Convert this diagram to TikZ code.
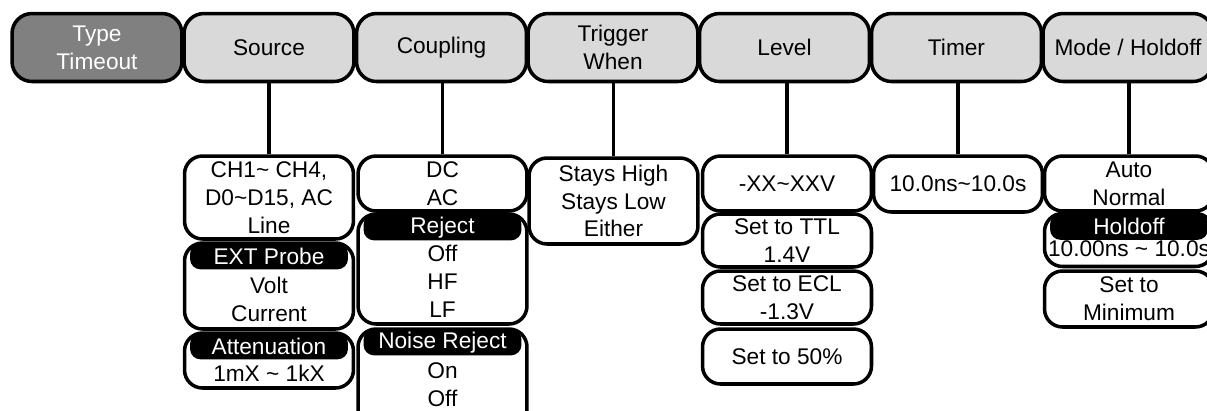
\documentclass[tikz,border=0pt]{standalone}
\usepackage{fontspec}
\setmainfont{Liberation Sans}
\usetikzlibrary{positioning}
\definecolor{keygray}{HTML}{D9D9D9}
\definecolor{selgray}{HTML}{808080}

\begin{document}
\begin{tikzpicture}[x=0.02cm, y=-0.02cm, font=\fontsize{12.9}{15.8}\selectfont,
  menu/.style={draw, line width=2pt, rounded corners=0.4cm, fill=keygray, align=center, minimum width=3.40cm, minimum height=1.36cm, inner sep=0pt},
  sel/.style={menu, fill=selgray, text=white},
  opt/.style={draw, line width=2pt, rounded corners=0.36cm, fill=white, align=center, minimum width=3.38cm, inner sep=0pt},
  hdr/.style={fill=black, text=white, rounded corners=6pt, minimum width=3.16cm, minimum height=0.52cm, inner sep=0pt},
  body/.style={align=center, inner sep=0pt},
  link/.style={line width=2.2pt}]
\useasboundingbox (0,0) rectangle (1207,410);
% soft keys
\node[sel] (tType) at (97,47.5) {Type\\Timeout};
\node[menu] (tSrc) at (269,47.5) {Source};
\node[menu] (tCpl) at (441.5,47.5) {Coupling};
\node[menu] (tTrig) at (613,47.5) {Trigger\\When};
\node[menu] (tLvl) at (784.5,47.5) {Level};
\node[menu] (tTmr) at (956.5,47.5) {Timer};
\node[menu] (tMode) at (1128,47.5) {Mode / Holdoff};
% source
\node[opt, minimum height=1.66cm] (sA) at (269,197.5) {CH1\textasciitilde{} CH4,\\D0\textasciitilde D15, AC\\Line};
\node[opt, minimum height=1.72cm] (sB) at (269,286) {};
\node[hdr, below=1pt of sB.north] (sBh) {EXT Probe};
\node[body, below=4pt of sBh] (sBt) {Volt\\Current};
\node[opt, minimum height=1.10cm] (sC) at (269,360.5) {};
\node[hdr, below=1pt of sC.north] (sCh) {Attenuation};
\node[body, below=2.8pt of sCh] (sCt) {1mX \textasciitilde{} 1kX};
% coupling
\node[opt, minimum height=1.10cm] (cA) at (442.5,183.5) {DC\\AC};
\node[opt, minimum height=2.20cm] (cB) at (442.5,269) {};
\node[hdr, below=1pt of cB.north] (cBh) {Reject};
\node[body, below=2.3pt of cBh] (cBt) {Off\\HF\\LF};
\node[opt, minimum height=2.0cm] (cC) at (442.5,379) {};
\node[hdr, below=1pt of cC.north] (cCh) {Noise Reject};
\node[body, below=4pt of cCh] (cCt) {On\\Off};
% trigger when
\node[opt, minimum height=1.72cm] (wA) at (613.5,201) {Stays High\\Stays Low\\Either};
% level
\node[opt, minimum height=1.10cm] (lA) at (787,183.5) {-XX\textasciitilde XXV};
\node[opt, minimum height=1.06cm] (lB) at (787,240.5) {Set to TTL\\1.4V};
\node[opt, minimum height=1.06cm] (lC) at (787,297.5) {Set to ECL\\-1.3V};
\node[opt, minimum height=1.10cm] (lD) at (787,356.5) {Set to 50\%};
% timer
\node[opt, minimum height=1.12cm] (rA) at (958,184) {10.0ns\textasciitilde 10.0s};
% mode / holdoff
\node[opt, minimum height=1.10cm] (mA) at (1129,183.5) {Auto\\Normal};
\node[opt, minimum height=1.06cm] (mB) at (1129,240) {};
\node[hdr, below=1pt of mB.north] (mBh) {Holdoff};
\node[body, below=0pt of mBh] (mBt) {10.00ns \textasciitilde{} 10.0s};
\node[opt, minimum height=1.12cm] (mC) at (1129,299) {Set to\\Minimum};
% links
\draw[link] (sA.north) -- (sA.north |- tSrc.south);
\draw[link] (cA.north) -- (cA.north |- tCpl.south);
\draw[link] (wA.north) -- (wA.north |- tTrig.south);
\draw[link] (lA.north) -- (lA.north |- tLvl.south);
\draw[link] (rA.north) -- (rA.north |- tTmr.south);
\draw[link] (mA.north) -- (mA.north |- tMode.south);
\end{tikzpicture}
\end{document}
